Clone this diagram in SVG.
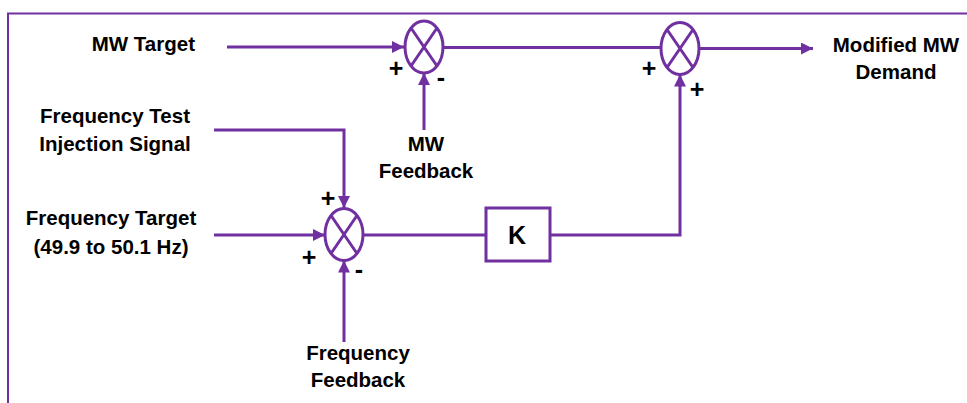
<svg xmlns="http://www.w3.org/2000/svg" width="967" height="403" viewBox="0 0 967 403">
<style>
.ln{fill:none;stroke:#7030A0;stroke-width:3}
.bd{fill:none;stroke:#7030A0;stroke-width:2}
.lbl{font-family:"Liberation Sans",Arial,sans-serif;font-weight:bold;font-size:20.5px;fill:#000}
.k{font-size:25px}
.sg{font-family:"Liberation Sans",Arial,sans-serif;font-weight:bold;font-size:25px;fill:#000;text-anchor:middle}
.sum{fill:#fff;stroke:#7030A0;stroke-width:3}
</style>
<defs>
<marker id="ah" markerUnits="userSpaceOnUse" markerWidth="12" markerHeight="12" refX="12" refY="6" orient="auto">
<path d="M0,0 L12,6 L0,12 z" fill="#7030A0"/>
</marker>
</defs>
<rect width="967" height="403" fill="#fff"/>
<path class="bd" d="M8 403 V13.5 H967"/>

<g id="connectors">
<path class="ln" d="M227 47 H404" marker-end="url(#ah)"/>
<path class="ln" d="M443 47.5 H661"/>
<path class="ln" d="M699 48.5 H813" marker-end="url(#ah)"/>
<path class="ln" d="M424 130 V73" marker-end="url(#ah)"/>
<path class="ln" d="M214 130 H344 V208" marker-end="url(#ah)"/>
<path class="ln" d="M214 235 H325" marker-end="url(#ah)"/>
<path class="ln" d="M363 235 H486"/>
<path class="ln" d="M550 235 H680 V74.5" marker-end="url(#ah)"/>
<path class="ln" d="M344 342 V260.5" marker-end="url(#ah)"/>
</g>

<g id="sum1">
<ellipse class="sum" cx="424" cy="47" rx="19" ry="26"/>
<path class="ln" d="M411 28 L437 66 M437 28 L411 66"/>
<text class="sg" x="396" y="77">+</text>
<text class="sg" x="441" y="86">-</text>
</g>

<g id="sum2">
<ellipse class="sum" cx="680" cy="48.5" rx="19" ry="26"/>
<path class="ln" d="M667 29.5 L693 67.5 M693 29.5 L667 67.5"/>
<text class="sg" x="649" y="77">+</text>
<text class="sg" x="697" y="98">+</text>
</g>

<g id="sum3">
<ellipse class="sum" cx="344" cy="234.5" rx="19" ry="26"/>
<path class="ln" d="M331 215.5 L357 253.5 M357 215.5 L331 253.5"/>
<text class="sg" x="328" y="207">+</text>
<text class="sg" x="309" y="266">+</text>
<text class="sg" x="359" y="278">-</text>
</g>

<g id="gainK">
<rect x="486" y="208" width="64" height="53" fill="#fff" stroke="#7030A0" stroke-width="3"/>
<text class="lbl k" x="517" y="244" text-anchor="middle">K</text>
</g>

<g id="mwTarget">
<text class="lbl" x="195" y="51" text-anchor="end">MW Target</text>
</g>
<g id="injection">
<text class="lbl" x="115" y="123" text-anchor="middle">Frequency Test</text>
<text class="lbl" x="115" y="151" text-anchor="middle">Injection Signal</text>
</g>
<g id="freqTarget">
<text class="lbl" x="111" y="225" text-anchor="middle">Frequency Target</text>
<text class="lbl" x="111" y="254" text-anchor="middle">(49.9 to 50.1 Hz)</text>
</g>
<g id="mwFeedback">
<text class="lbl" x="426" y="151" text-anchor="middle">MW</text>
<text class="lbl" x="426" y="178" text-anchor="middle">Feedback</text>
</g>
<g id="freqFeedback">
<text class="lbl" x="358" y="360" text-anchor="middle">Frequency</text>
<text class="lbl" x="358" y="387" text-anchor="middle">Feedback</text>
</g>
<g id="output">
<text class="lbl" x="896" y="52" text-anchor="middle">Modified MW</text>
<text class="lbl" x="896" y="79" text-anchor="middle">Demand</text>
</g>
</svg>
